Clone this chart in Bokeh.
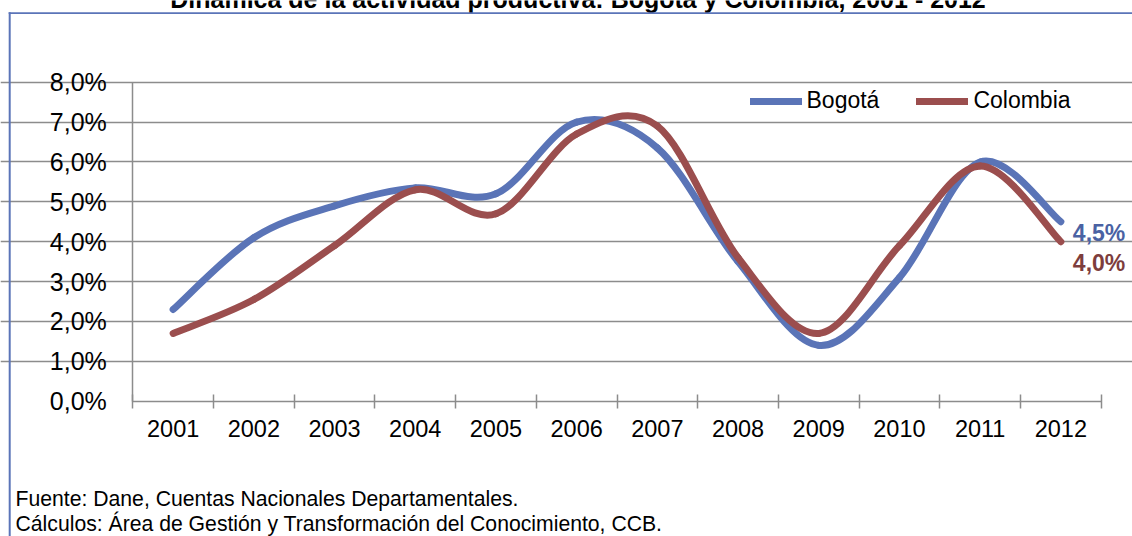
import numpy as np
from bokeh.plotting import figure
from bokeh.models import Range1d, FixedTicker, Label, Legend, LegendItem, BoxAnnotation
from bokeh.embed import file_html
from bokeh.resources import INLINE

# ---------------- data ----------------
years = ["2001", "2002", "2003", "2004", "2005", "2006",
         "2007", "2008", "2009", "2010", "2011", "2012"]
bogota = [2.3, 4.1, 4.9, 5.35, 5.2, 7.0, 6.35, 3.5, 1.4, 3.1, 6.0, 4.5]
colombia = [1.7, 2.55, 3.9, 5.3, 4.7, 6.7, 6.9, 3.6, 1.7, 3.9, 5.9, 4.0]
series_names = ["Bogotá", "Colombia"]
y_ticks = [0, 1, 2, 3, 4, 5, 6, 7, 8]
y_tick_labels = ["0,0%", "1,0%", "2,0%", "3,0%", "4,0%", "5,0%", "6,0%", "7,0%", "8,0%"]
end_labels = ["4,5%", "4,0%"]
title_text = "Dinámica de la actividad productiva: Bogotá y Colombia, 2001 - 2012"
source_lines = ["Fuente: Dane, Cuentas Nacionales Departamentales.",
                "Cálculos: Área de Gestión y Transformación del Conocimiento, CCB."]

# ---------------- style / layout ----------------
BLUE = "#5a74b7"
RED = "#9b4e4e"
BLUE_TXT = "#4a62a3"
RED_TXT = "#7d3d3d"
GRID = "#8c8c8c"
FRAME_BLUE = "#5b74b8"
FONT = "Liberation Sans"

W, H = 1132, 536
PX_LEFT, PX_RIGHT = 132.3, 1100.7      # plot-area edges (pixels)
PY_TOP, PY_ZERO = 81.7, 400.7          # 8% and 0% (pixels)
n = len(years)
ppx = (PX_RIGHT - PX_LEFT) / n
ppy = (PY_ZERO - PY_TOP) / (y_ticks[-1] - y_ticks[0])


def px2x(px):
    return 0.5 + (px - PX_LEFT) / ppx


def py2y(py):
    return (PY_ZERO - py) / ppy


p = figure(width=W, height=H, output_backend="svg", toolbar_location=None,
           x_range=Range1d(px2x(0), px2x(W)), y_range=Range1d(py2y(H), py2y(0)),
           min_border=0, min_border_left=0, min_border_right=0,
           min_border_top=0, min_border_bottom=0)
p.title.visible = False
p.outline_line_color = None
p.background_fill_color = "white"
p.border_fill_color = "white"

xs = np.arange(1, n + 1, dtype=float)

# grid
p.xgrid.visible = False
p.ygrid.ticker = FixedTicker(ticks=y_ticks[1:])
p.ygrid.bounds = (0.5, n + 0.5)
p.ygrid.grid_line_color = GRID
p.ygrid.grid_line_width = 1.5

# y axis
yax = p.yaxis[0]
yax.fixed_location = 0.5
yax.bounds = (y_ticks[0], y_ticks[-1])
yax.ticker = FixedTicker(ticks=y_ticks)
yax.major_label_overrides = {t: l for t, l in zip(y_ticks, y_tick_labels)}
yax.major_tick_line_color = None
yax.minor_tick_line_color = None
yax.major_tick_out = 0
yax.major_tick_in = 0
yax.axis_line_color = GRID
yax.axis_line_width = 1.5
yax.major_label_standoff = 26
yax.major_label_text_font = FONT
yax.major_label_text_font_size = "25px"
yax.major_label_text_color = "black"

# x axis
xax = p.xaxis[0]
xax.fixed_location = 0
xax.bounds = (0.5, n + 0.5)
xax.ticker = FixedTicker(ticks=list(xs), minor_ticks=list(np.arange(0.5, n + 1.0, 1.0)))
xax.major_label_overrides = {float(x): y for x, y in zip(xs, years)}
xax.major_tick_line_color = None
xax.major_tick_out = 0
xax.major_tick_in = 0
xax.minor_tick_line_color = GRID
xax.minor_tick_line_width = 1.5
xax.minor_tick_in = 7
xax.minor_tick_out = 7
xax.axis_line_color = GRID
xax.axis_line_width = 1.5
xax.major_label_standoff = 12
xax.major_label_text_font = FONT
xax.major_label_text_font_size = "23.5px"
xax.major_label_text_color = "black"


# smoothed lines (Catmull-Rom style bezier segments, like Excel's smoothing)
def smooth_segments(x, y):
    x = np.asarray(x, float)
    y = np.asarray(y, float)
    xp = np.concatenate([[x[0]], x, [x[-1]]])
    yp = np.concatenate([[y[0]], y, [y[-1]]])
    m = len(x)
    x0, y0 = x[:-1], y[:-1]
    x1, y1 = x[1:], y[1:]
    cx0 = x0 + (xp[2:m + 1] - xp[0:m - 1]) / 6.0
    cy0 = y0 + (yp[2:m + 1] - yp[0:m - 1]) / 6.0
    cx1 = x1 - (xp[3:m + 2] - xp[1:m]) / 6.0
    cy1 = y1 - (yp[3:m + 2] - yp[1:m]) / 6.0
    return dict(x0=x0, y0=y0, x1=x1, y1=y1, cx0=cx0, cy0=cy0, cx1=cx1, cy1=cy1)


renderers = []
for vals, col in [(bogota, BLUE), (colombia, RED)]:
    s = smooth_segments(xs, vals)
    r = p.bezier(x0=s["x0"], y0=s["y0"], x1=s["x1"], y1=s["y1"],
                 cx0=s["cx0"], cy0=s["cy0"], cx1=s["cx1"], cy1=s["cy1"],
                 line_color=col, line_width=7, line_cap="round")
    renderers.append(r)

legend = Legend(items=[LegendItem(label=series_names[0], renderers=[renderers[0]]),
                       LegendItem(label=series_names[1], renderers=[renderers[1]])],
                location=(749.5, H - 100 - 14), orientation="horizontal",
                glyph_width=52, glyph_height=20, label_standoff=5, spacing=37,
                padding=0, margin=0, border_line_color=None,
                background_fill_alpha=0,
                label_text_font=FONT, label_text_font_size="23px",
                label_text_color="black")
p.add_layout(legend)

# end value labels
for vals, txt, col, py in [(bogota, end_labels[0], BLUE_TXT, 232),
                           (colombia, end_labels[1], RED_TXT, 262)]:
    p.add_layout(Label(x=xs[-1], y=py2y(py), text=txt, x_offset=12,
                       text_font=FONT, text_font_style="bold", text_font_size="23px",
                       text_color=col, text_baseline="middle", text_align="left"))

# title (cut at top of the picture, as in the source image)
p.add_layout(Label(x=px2x(577.5), y=py2y(-1.5), text=title_text,
                   text_font=FONT, text_font_style="bold",
                   text_font_size="25px", text_color="black",
                   text_align="center", text_baseline="middle"))

# source notes
for i, line in enumerate(source_lines):
    p.add_layout(Label(x=px2x(15), y=py2y(497.5 + 25 * i), text=line,
                       text_font=FONT, text_font_size="21.2px",
                       text_color="black", text_align="left", text_baseline="middle"))

# blue frame of the chart box (top and left edges visible)
p.add_layout(BoxAnnotation(left=px2x(8.2), right=px2x(W + 50), top=py2y(11.8), bottom=py2y(13.6),
                           fill_color=FRAME_BLUE, fill_alpha=1, line_color=None))
p.add_layout(BoxAnnotation(left=px2x(8.2), right=px2x(10.2), top=py2y(11.8), bottom=py2y(H + 50),
                           fill_color=FRAME_BLUE, fill_alpha=1, line_color=None))

open("out.html", "w").write(file_html(p, INLINE))
